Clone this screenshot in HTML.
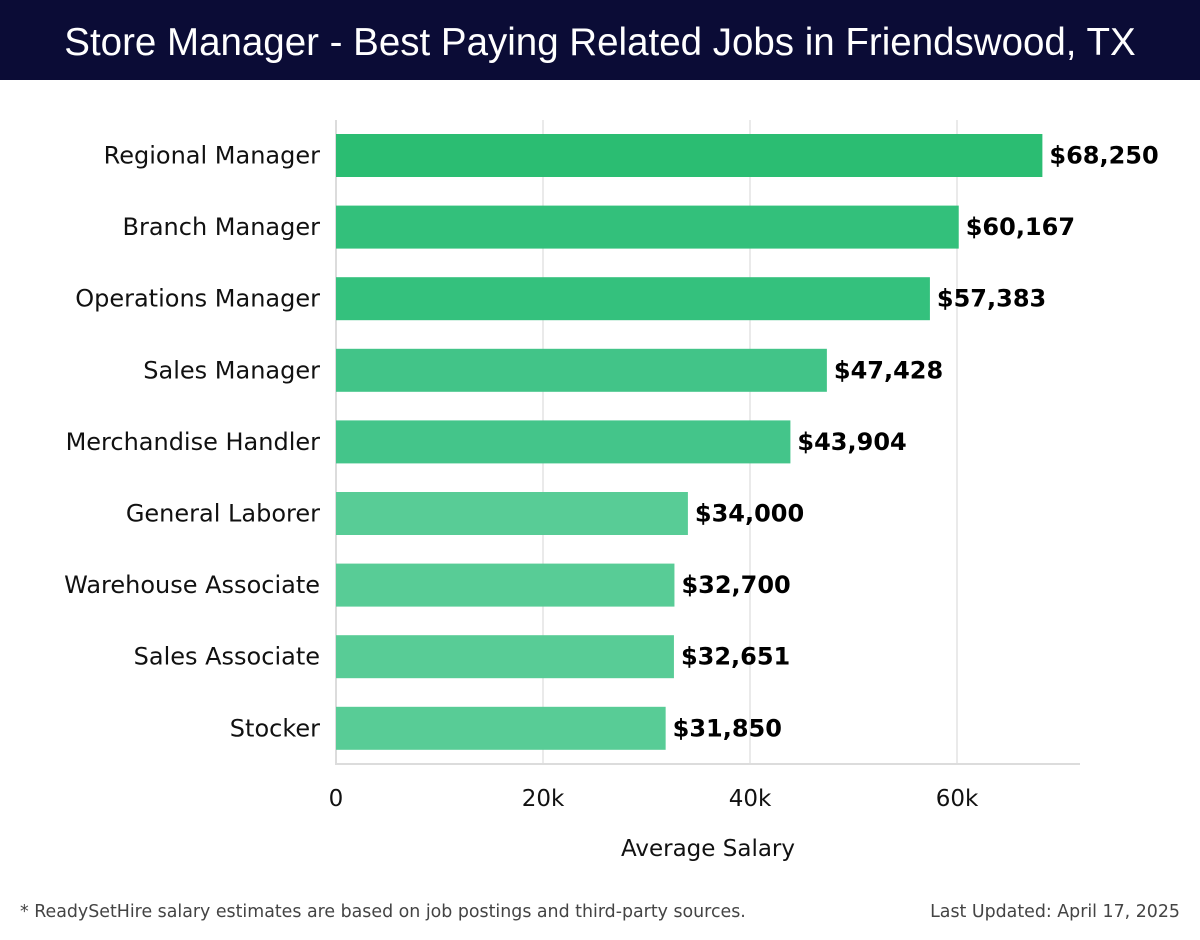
<!DOCTYPE html>
<html><head><meta charset="utf-8"><style>
body{margin:0;width:1200px;height:940px;background:#fff;font-family:"Liberation Sans","DejaVu Sans",sans-serif;overflow:hidden}
#hdr{position:absolute;left:0;top:0;width:1200px;height:80px;background:#0b0c36;color:#fff;font-size:38.5px;text-align:center;line-height:86px}
.ft{position:absolute;top:902px;font-size:17.4px;color:#444;font-family:"DejaVu Sans",sans-serif}
svg text{font-family:"DejaVu Sans",sans-serif}
</style></head><body>
<div id="hdr">Store Manager - Best Paying Related Jobs in Friendswood, TX</div>
<svg id="chart" width="1200" height="940" style="position:absolute;left:0;top:0"></svg>
<div class="ft" style="left:20px">* ReadySetHire salary estimates are based on job postings and third-party sources.</div>
<div class="ft" style="right:20px">Last Updated: April 17, 2025</div>
<script>
const categories=["Regional Manager","Branch Manager","Operations Manager","Sales Manager","Merchandise Handler","General Laborer","Warehouse Associate","Sales Associate","Stocker"];
const values=[68250,60167,57383,47428,43904,34000,32700,32651,31850];
const tickValues=[0,20000,40000,60000];
const tickLabels=["0","20k","40k","60k"];
const colors=["#2bbd72","#33c07b","#34c17d","#42c488","#44c58a","#58cc96","#58cc96","#58cc96","#58cc96"];
const NS="http://www.w3.org/2000/svg",svg=document.getElementById("chart");
const x0=336,pxPer=(957-336)/60000,top0=120,band=71.6;
const x=v=>x0+v*pxPer, yc=i=>top0+band*i+35.5;
function mk(t,a,txt){const e=document.createElementNS(NS,t);for(const k in a)e.setAttribute(k,a[k]);if(txt!=null)e.textContent=txt;svg.appendChild(e);return e;}
tickValues.forEach((v,i)=>{
 const g=mk("line",{x1:x(v),x2:x(v),y1:top0,y2:763,stroke:i?"#e3e3e3":"#d0d0d0","stroke-width":1.5});
 
 
 const t=mk("text",{x:x(v),y:806,"font-size":23,"text-anchor":"middle",fill:"#111"},tickLabels[i]);
 
 
});
const ax=mk("line",{x1:335,x2:1080,y1:764,y2:764,stroke:"#d0d0d0","stroke-width":1.5});


const xt=mk("text",{x:708,y:856,"font-size":23,"text-anchor":"middle",fill:"#111"},"Average Salary");


categories.forEach((c,i)=>{
 const b=mk("rect",{x:x0,y:yc(i)-21.5,width:x(values[i])-x0,height:43,fill:colors[i]});
 
 
 const l=mk("text",{x:320,y:yc(i)+8,"font-size":24,"text-anchor":"end",fill:"#111"},c);
 
 
 const v=mk("text",{x:x(values[i])+7,y:yc(i)+8,"font-size":24,"font-weight":"bold",fill:"#000"},"$"+values[i].toLocaleString("en-US"));
 
 
});
</script>
</body></html>
